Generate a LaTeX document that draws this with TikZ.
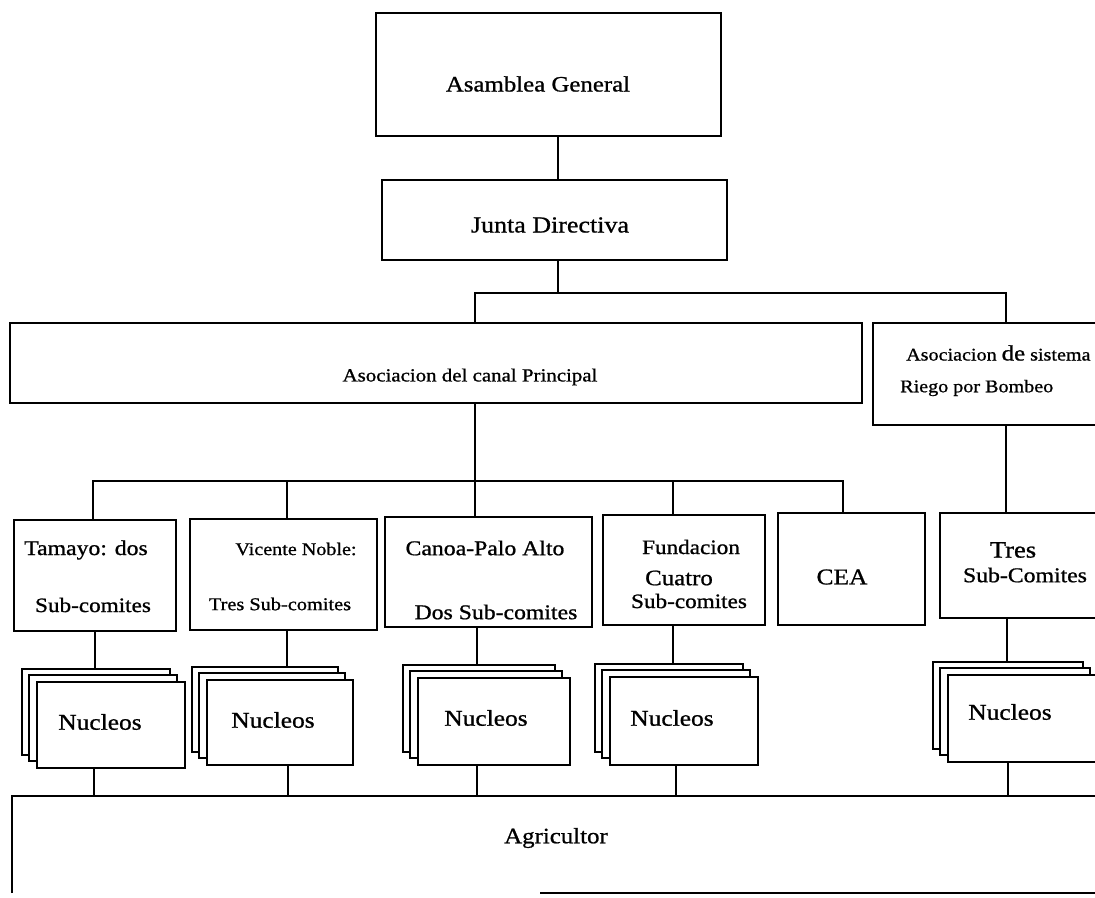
\documentclass[tikz,border=0pt]{standalone}
\usepackage{fontspec}
\setmainfont[FakeStretch=1.13,FakeBold=0.9]{Liberation Serif}
\usetikzlibrary{backgrounds}
\newcommand\myfs[1]{\fontsize{#1}{#1}\selectfont}
\newcommand\nstack[5]{%
  \node[box,minimum width=#4pt,minimum height=#5pt] (#1b) at (#2-15,#3-13) {};
  \node[box,minimum width=#4pt,minimum height=#5pt] (#1m) at (#2-8,#3-7) {};
  \node[box,minimum width=#4pt,minimum height=#5pt] (#1) at (#2,#3) {};}
\begin{document}
\begin{tikzpicture}[x=1pt,y=-1pt,
  box/.style={draw,line width=2.2pt,fill=white,inner sep=0pt,outer sep=0pt,anchor=north west},
  txt/.style={inner sep=0pt,anchor=center},
  ltxt/.style={inner sep=0pt,anchor=west},
  conn/.style={line width=2.8pt},
  edge/.style={line width=2.2pt}]
\useasboundingbox (0,0) rectangle (1095,897);
\clip (0,0) rectangle (1095,897);
% boxes
\node[box,minimum width=345pt,minimum height=123pt] (ag) at (376,13) {};
\node[box,minimum width=345pt,minimum height=80pt] (jd) at (382,180) {};
\node[box,minimum width=852pt,minimum height=80pt] (acp) at (10,323) {};
\node[box,minimum width=260pt,minimum height=102pt] (riego) at (873,323) {};
\node[box,minimum width=162pt,minimum height=111pt] (tam) at (14,520) {};
\node[box,minimum width=187pt,minimum height=111pt] (vic) at (190,519) {};
\node[box,minimum width=207pt,minimum height=110pt] (can) at (385,517) {};
\node[box,minimum width=162pt,minimum height=110pt] (fun) at (603,515) {};
\node[box,minimum width=147pt,minimum height=112pt] (cea) at (778,513) {};
\node[box,minimum width=200pt,minimum height=105pt] (tres) at (940,513) {};
\nstack{na}{37}{682}{148}{86}
\nstack{nb}{207}{680}{146}{85}
\nstack{nc}{418}{678}{152}{87}
\nstack{nd}{610}{677}{148}{88}
\nstack{ne}{948}{675}{150}{87}
\node[inner sep=0pt,outer sep=0pt,anchor=north west,minimum width=1100pt,minimum height=97pt] (agr) at (12,796) {};
\coordinate (abot) at (540,0);
\draw[edge] (agr.south west) -- (agr.north west) -- (agr.north east);
\draw[edge] (agr.south -| abot) -- (agr.south east);
% connectors
\coordinate (c1) at (558,0);
\coordinate (bus1) at (558,293);
\coordinate (bus1l) at (475,293);
\coordinate (bus1r) at (1006,293);
\coordinate (b2a) at (93,481);
\coordinate (b2b) at (287,481);
\coordinate (b2c) at (475,481);
\coordinate (b2d) at (673,481);
\coordinate (b2e) at (843,481);
\coordinate (d1) at (95,0);
\coordinate (d2) at (287,0);
\coordinate (d3) at (477,0);
\coordinate (d4) at (673,0);
\coordinate (d5) at (1007,0);
\coordinate (e1) at (94,0);
\coordinate (e2) at (288,0);
\coordinate (e3) at (477,0);
\coordinate (e4) at (676,0);
\coordinate (e5) at (1008,0);
\begin{scope}[on background layer]
\draw[conn] (ag.south -| c1) -- (jd.north -| c1);
\draw[conn] (jd.south -| c1) -- (bus1);
\draw[conn] (acp.north -| bus1l) -- (bus1l) -- (bus1r) -- (riego.north -| bus1r);
\draw[conn] (acp.south -| b2c) -- (b2c);
\draw[conn] (tam.north -| b2a) -- (b2a) -- (b2e) -- (cea.north -| b2e);
\draw[conn] (b2b) -- (vic.north -| b2b);
\draw[conn] (b2c) -- (can.north -| b2c);
\draw[conn] (b2d) -- (fun.north -| b2d);
\draw[conn] (riego.south -| bus1r) -- (tres.north -| bus1r);
\draw[conn] (tam.south -| d1) -- (na.north -| d1);
\draw[conn] (vic.south -| d2) -- (nb.north -| d2);
\draw[conn] (can.south -| d3) -- (nc.north -| d3);
\draw[conn] (fun.south -| d4) -- (nd.north -| d4);
\draw[conn] (tres.south -| d5) -- (ne.north -| d5);
\draw[conn] (na.south -| e1) -- (agr.north -| e1);
\draw[conn] (nb.south -| e2) -- (agr.north -| e2);
\draw[conn] (nc.south -| e3) -- (agr.north -| e3);
\draw[conn] (nd.south -| e4) -- (agr.north -| e4);
\draw[conn] (ne.south -| e5) -- (agr.north -| e5);
\end{scope}
% texts
\node[txt] (tag) at (538,84) {\myfs{22}Asamblea General};
\node[txt] (tjd) at (550,225) {\myfs{23}Junta Directiva};
\node[txt] (tacp) at (470,377) {\myfs{18.5}Asociacion del canal Principal};
\node[ltxt] (tr1) at (906,353) {\myfs{17.8}Asociacion {\myfs{22}de} sistema};
\node[ltxt] (tr2) at (900,388) {\myfs{17.8}Riego por Bombeo};
\node[txt] (tt1) at (86,550) {\myfs{21}Tamayo: dos};
\node[txt] (tt2) at (93,605) {\myfs{20.5}Sub-comites};
\node[txt] (tv1) at (296,549) {\myfs{17.8}Vicente Noble:};
\node[txt] (tv2) at (280,604) {\myfs{18}Tres Sub-comites};
\node[txt] (tc1) at (485,548) {\myfs{21}Canoa-Palo Alto};
\node[txt] (tc2) at (496,612) {\myfs{21}Dos Sub-comites};
\node[txt] (tf1) at (691,547) {\myfs{20.5}Fundacion};
\node[txt] (tf2) at (679,578) {\myfs{22}Cuatro};
\node[txt] (tf3) at (689,601) {\myfs{20.5}Sub-comites};
\node[txt] (tcea) at (842,577) {\myfs{22.5}CEA};
\node[txt] (ts1) at (1013,550) {\myfs{23.5}Tres};
\node[txt] (ts2) at (1025,575) {\myfs{21}Sub-Comites};
\node[txt] (tna) at (100,722) {\myfs{22.5}Nucleos};
\node[txt] (tnb) at (273,720) {\myfs{22.5}Nucleos};
\node[txt] (tnc) at (486,718) {\myfs{22.5}Nucleos};
\node[txt] (tnd) at (672,718) {\myfs{22.5}Nucleos};
\node[txt] (tne) at (1010,712) {\myfs{22.5}Nucleos};
\node[txt] (tagr) at (556,838) {\myfs{22}Agricultor};
\end{tikzpicture}
\end{document}
